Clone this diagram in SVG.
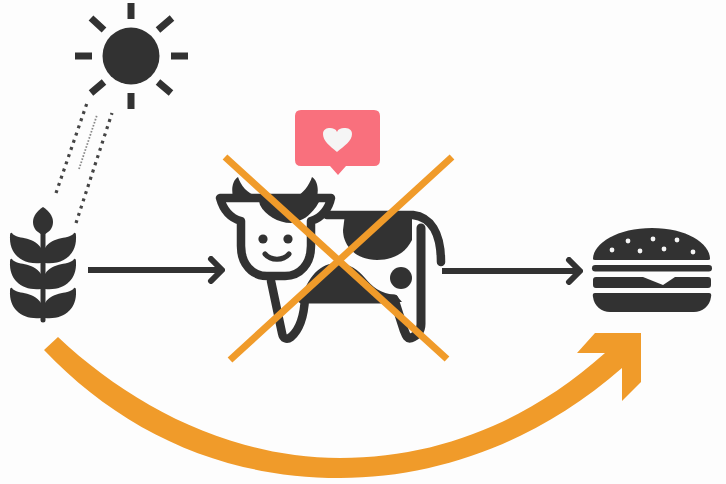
<svg xmlns="http://www.w3.org/2000/svg" width="726" height="484" viewBox="0 0 726 484">
<style>
.d{fill:#333}
.s{fill:none;stroke:#333;stroke-linecap:round;stroke-linejoin:round}
.o{fill:#f09b2b}
.x{stroke:#f09b2b;stroke-width:7;fill:none}
.dot{fill:none;stroke:#444;stroke-width:3.2;stroke-dasharray:3 4.6}
</style>
<defs>
<filter id="b" x="-5%" y="-5%" width="110%" height="110%"><feGaussianBlur stdDeviation="0.7"/></filter>
<path id="leafL" d="M12 233C16 240 33 235 41 248V263C22 265 9 254 10 236Q10 232 12 233Z"/>
<path id="leafR" d="M74 233C70 240 53 235 45 248V263C64 265 77 254 76 236Q76 232 74 233Z"/>
<marker id="chev" viewBox="0 0 20 28" refX="17" refY="14" markerWidth="20" markerHeight="28" markerUnits="userSpaceOnUse" orient="auto"><path d="M6 3L17 14L6 25" fill="none" stroke="#333" stroke-width="6" stroke-linecap="round" stroke-linejoin="round"/></marker>
</defs>
<rect width="726" height="484" fill="#fdfdfd"/>
<g filter="url(#b)">
<g id="connectors">
<path class="dot" d="M56 193L87 103"/>
<path d="M79 169L97 115" fill="none" stroke="#888" stroke-width="1.8" stroke-dasharray="1.6 1.6"/>
<path class="dot" d="M76 223L112 113"/>
<path d="M88 270H222" fill="none" stroke="#333" stroke-width="6" marker-end="url(#chev)"/>
<path d="M442 271H580" fill="none" stroke="#333" stroke-width="6" marker-end="url(#chev)"/>
<path id="curve" class="o" d="M44 350L58 337C130 405 230 458 340 458C440 458 530 420 605 353H577L595 333H641V382L622 401V368C540 440 440 478 340 478C220 478 120 430 44 350Z"/>
</g>
<g id="sun">
<circle class="d" cx="131" cy="56" r="28.5"/>
<path d="M131 3V19M131 93V109M75 56H92M171 56H188M91 18L104 30M172 18L158 30M91 93L104 82M171 93L158 82" fill="none" stroke="#333" stroke-width="7"/>
</g>
<g id="wheat">
<path class="d" d="M43 207C49 211 53 216 53 222C53 229 48 233 43 235C38 233 33 229 33 222C33 216 37 211 43 207Z"/>
<path d="M43 230V320" stroke="#333" stroke-width="5" stroke-linecap="round"/>
<use href="#leafL" class="d"/><use href="#leafR" class="d"/>
<use href="#leafL" class="d" y="26"/><use href="#leafR" class="d" y="26"/>
<use href="#leafL" class="d" y="55"/><use href="#leafR" class="d" y="55"/>
</g>
<g id="cow">
<path class="d" d="M345 214H412V240C405 254 392 260 377 260C356 260 343 246 343 230Z"/>
<path class="d" d="M302 302C304 282 318 264 335 263C350 263 358 270 365 278C372 286 380 294 396 295L402 302Z"/>
<circle class="d" cx="401" cy="278" r="11"/>
<path class="d" d="M238 177C233 180 231 188 233 197H258C247 193 241 186 238 177ZM312 177C317 180 319 188 317 197H296C303 193 309 186 312 177Z"/>
<path class="d" d="M258 197H322L316 207C308 217 304 220 291 223C278 223 265 215 260 205Z"/>
<path class="s" stroke-width="8.5" d="M220 198H331C329 208 322 218 311 221V246C311 264 300 276 285 276H267C252 276 241 264 241 246V221C230 218 223 209 220 198Z"/>
<circle class="d" cx="263" cy="239" r="4.6"/><circle class="d" cx="288" cy="239" r="4.6"/>
<path class="s" stroke-width="5" d="M265 254C271 261 283 261 289 254"/>
<path class="s" stroke-width="8.5" d="M327 215H413C430 217 441 232 441 262"/>
<path class="s" stroke-width="9" d="M421 228V324C421 331 417 336 411 338C407 339 406 335 404 330L394 299H302"/>
<path class="s" stroke-width="8.5" d="M271 281L282 333C283 339 287 340 291 337C298 331 304 318 305 298"/>
</g>
<g id="bubble">
<path fill="#f9707d" d="M301 110H374Q380 110 380 116V160Q380 166 374 166H346L338 175L330 166H301Q295 166 295 160V116Q295 110 301 110Z"/>
<path fill="#f5f5f5" d="M337 152C330 146 323 141 323 134C323 129 327 128 330 128C333 128 336 129 337 132C338 129 341 128 344 128C348 128 352 129 352 134C352 141 344 146 337 152Z"/>
</g>
<g id="cross">
<path class="x" d="M225 157L447 359M452 157L230 360"/>
</g>
<g id="burger">
<path class="d" d="M593 259C593 243 618 228 652 228C686 228 710 243 710 259Q710 260 708 260H595Q593 260 593 259Z"/>
<g fill="#f5f5f5"><circle cx="612" cy="250" r="2.4"/><circle cx="628" cy="241" r="2.4"/><circle cx="653" cy="239" r="2.4"/><circle cx="677" cy="240" r="2.4"/><circle cx="640" cy="251" r="2.4"/><circle cx="664" cy="249" r="2.4"/><circle cx="693" cy="252" r="2.4"/></g>
<rect class="d" x="592" y="265" width="120" height="6.5" rx="3.2"/>
<path class="d" d="M596 277H643L663 285L675 277H708Q711 277 711 280V285Q711 288 708 288H596Q593 288 593 285V280Q593 277 596 277Z"/>
<path class="d" d="M595 293H709Q712 293 711 297C710 306 702 312 694 312H610C602 312 594 306 593 297Q592 293 595 293Z"/>
</g>
</g>
</svg>
